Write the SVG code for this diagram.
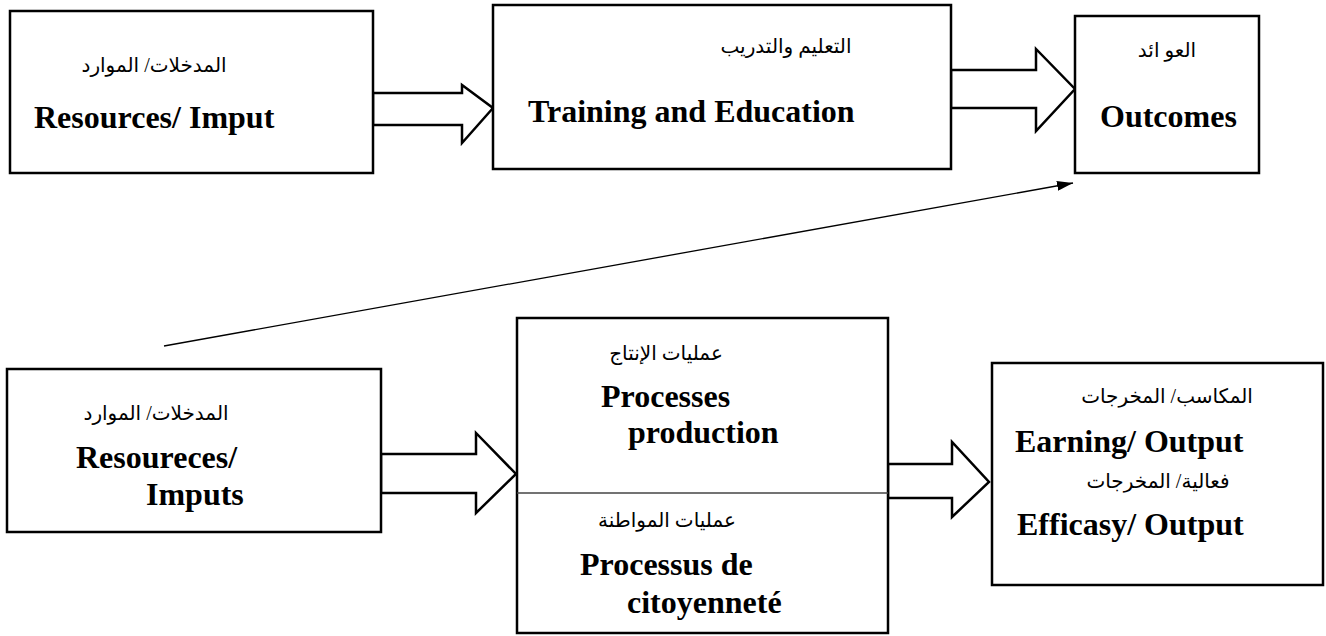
<svg xmlns="http://www.w3.org/2000/svg" width="1326" height="636" viewBox="0 0 1326 636">
  <style>
    .box { fill: #fff; stroke: #000; stroke-width: 2.5; }
    .div { stroke: #444; stroke-width: 1.5; }
    .big { fill: #fff; stroke: #000; stroke-width: 2.5; stroke-linejoin: miter; }
    .en { font-family: "Liberation Serif", "Times New Roman", serif; font-weight: bold; font-size: 32px; fill: #000; }
    .ar { font-family: "Liberation Serif", "DejaVu Sans", "Noto Sans", serif; font-size: 20px; fill: #000; text-anchor: middle; }
    .thin { stroke: #000; stroke-width: 1.3; fill: none; }
  </style>
  <defs>
    <marker id="tipLg" viewBox="0 0 16 10" refX="16" refY="5" markerWidth="16" markerHeight="10" markerUnits="userSpaceOnUse" orient="auto">
      <path d="M0,0 L16,5 L0,10 z" fill="#000"/>
    </marker>
  </defs>

  <rect width="1326" height="636" fill="#fff"/>

  <!-- connectors -->
  <g id="connectors">
    <polygon class="big" points="373,93 462,93 462,85 493,108 462,143 462,125 373,125"/>
    <polygon class="big" points="951,70 1036,70 1036,49 1075,89 1036,131 1036,108 951,108"/>
    <polygon class="big" points="381,454 476,454 476,433 516,474 476,513 476,493 381,493"/>
    <polygon class="big" points="888,464 952,464 952,442 989,482 952,517 952,498 888,498"/>
    <line class="thin" x1="164" y1="346" x2="1073" y2="183" marker-end="url(#tipLg)"/>
  </g>

  <!-- top row -->
  <g id="resources-top">
    <rect class="box" x="10" y="11" width="363" height="162"/>
    <text class="ar" x="154" y="72">المدخلات/ الموارد</text>
    <text class="en" x="34" y="128">Resources/ Imput</text>
  </g>

  <g id="training">
    <rect class="box" x="493" y="5" width="458" height="164"/>
    <text class="ar" x="786" y="53">التعليم والتدريب</text>
    <text class="en" x="528" y="122">Training and Education</text>
  </g>

  <g id="outcomes">
    <rect class="box" x="1075" y="16" width="184" height="157"/>
    <text class="ar" x="1167" y="57">العو ائد</text>
    <text class="en" x="1100" y="127">Outcomes</text>
  </g>

  <!-- bottom row -->
  <g id="resources-bottom">
    <rect class="box" x="7" y="369" width="374" height="163"/>
    <text class="ar" x="156" y="420">المدخلات/ الموارد</text>
    <text class="en" x="76" y="468">Resoureces/</text>
    <text class="en" x="146" y="505">Imputs</text>
  </g>

  <g id="processes">
    <rect class="box" x="517" y="318" width="371" height="315"/>
    <line class="div" x1="517" y1="493" x2="888" y2="493"/>
    <text class="ar" x="666" y="360">عمليات الإنتاج</text>
    <text class="en" x="601" y="407">Processes</text>
    <text class="en" x="628" y="443">production</text>
    <text class="ar" x="667" y="527">عمليات المواطنة</text>
    <text class="en" x="580" y="575">Processus de</text>
    <text class="en" x="627" y="613">citoyenneté</text>
  </g>

  <g id="outputs">
    <rect class="box" x="992" y="363" width="331" height="222"/>
    <text class="ar" x="1167" y="403">المكاسب/ المخرجات</text>
    <text class="en" x="1015" y="452">Earning/ Output</text>
    <text class="ar" x="1158" y="488">فعالية/ المخرجات</text>
    <text class="en" x="1017" y="535">Efficasy/ Output</text>
  </g>
</svg>
